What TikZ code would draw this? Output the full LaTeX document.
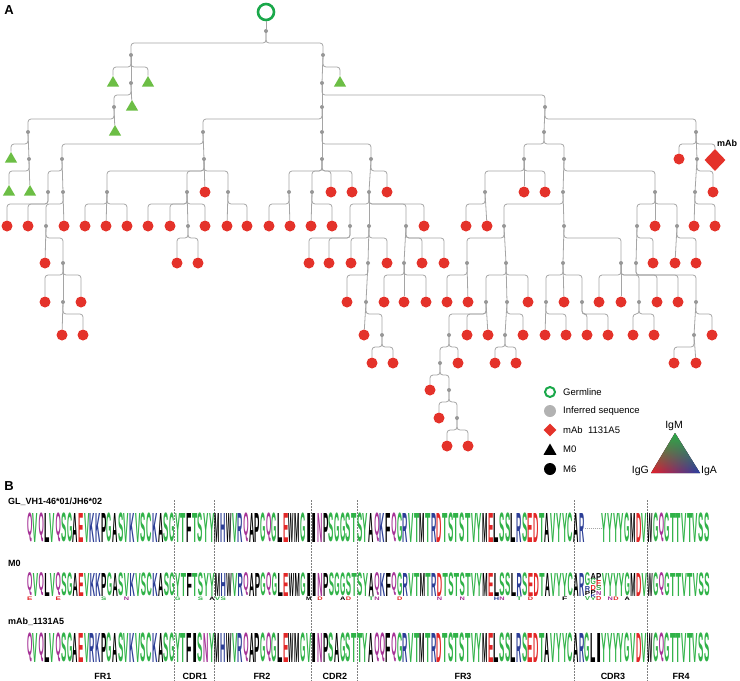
\documentclass[tikz,border=0pt]{standalone}
\usepackage{fontspec}
\setmainfont{Liberation Sans}
\usepackage{graphicx}
\usetikzlibrary{shapes.geometric, backgrounds, fadings}

\definecolor{leafred}{RGB}{228,50,42}
\definecolor{m0green}{RGB}{108,190,69}
\definecolor{germ}{RGB}{26,168,74}
\definecolor{branch}{RGB}{165,165,165}
\definecolor{infgray}{RGB}{150,150,150}
\definecolor{aagreen}{RGB}{48,178,72}
\definecolor{aared}{RGB}{226,38,38}
\definecolor{aablue}{RGB}{44,62,150}
\definecolor{aapurple}{RGB}{165,50,150}
\definecolor{igred}{RGB}{232,28,40}
\definecolor{iggreen}{RGB}{40,172,70}
\definecolor{igblue}{RGB}{40,60,165}

% residue colours
\colorlet{aaG}{aagreen}\colorlet{aaS}{aagreen}\colorlet{aaT}{aagreen}
\colorlet{aaY}{aagreen}\colorlet{aaC}{aagreen}\colorlet{aaV}{aagreen}
\colorlet{aaQ}{aapurple}\colorlet{aaN}{aapurple}
\colorlet{aaK}{aablue}\colorlet{aaR}{aablue}\colorlet{aaH}{aablue}
\colorlet{aaD}{aared}\colorlet{aaE}{aared}
\colorlet{aaA}{black}\colorlet{aaL}{black}\colorlet{aaI}{black}
\colorlet{aaP}{black}\colorlet{aaW}{black}\colorlet{aaF}{black}
\colorlet{aaM}{black}

\tikzfading[name=igfade, top color=transparent!0, bottom color=transparent!100]

% tree: child node plus its elbow from the parent
\newcommand{\kid}[5]{%
  \node[#3] (#2) at (#4,#5) {};
  \expandafter\xdef\csname kx#2\endcsname{#4}%
  \pgfmathtruncatemacro\kidnear{abs(\csname kx#1\endcsname-#4)<4}%
  \begin{pgfonlayer}{background}
    \ifnum\kidnear=1
      \draw[branchline] (#1) -- (#2);
    \else
      \draw[branchline] (#1.center) -- ++(0,12) -| (#2);
    \fi
  \end{pgfonlayer}}

% logo rows
\newcount\rescol
\newcommand{\resglyph}[2]{\textcolor{aa#2}{\resizebox*{5.3pt}{#1}{\bfseries #2}}}
\newcommand{\logorow}[4]{%
  \global\rescol=0
  \def\logotag{#1}\def\logoy{#2}\def\logoh{#3}%
  \logoscan#4\relax}
\def\logoscan#1{\ifx\relax#1\expandafter\logostop\else\expandafter\logodo\fi{#1}}
\def\logostop#1{}
\def\logodo#1{\logoput{#1}\global\advance\rescol by 1 \logoscan}
\def\logoput#1{\if-#1\else
  \edef\resname{\logotag\the\rescol}%
  \node[residue] (\resname) at ({27+(\the\rescol+0.5)*5.69},\logoy) {\resglyph{\logoh}{#1}};\fi}
\newcommand{\resat}[4]{%
  \node[residue] (var#1#4) at ({27+(#1+0.5)*5.69},#2) {\resglyph{#3}{#4}};}

\begin{document}
\begin{tikzpicture}[x=1pt,y=-1pt,
    branchline/.style={draw=branch, line width=0.8pt, rounded corners=3pt},
    inf/.style={circle, fill=infgray, inner sep=0pt, minimum size=4pt},
    msix/.style={circle, fill=leafred, inner sep=0pt, minimum size=11pt},
    mzero/.style={regular polygon, regular polygon sides=3, fill=m0green, inner sep=0pt, minimum size=14pt},
    mab/.style={diamond, fill=leafred, inner sep=0pt, minimum width=21pt, minimum height=22pt},
    germline/.style={circle, draw=germ, line width=2.6pt, inner sep=0pt, minimum size=16pt},
    panel/.style={font=\fontsize{13}{15}\selectfont\bfseries, inner sep=0pt},
    legtext/.style={anchor=west, font=\fontsize{9.5}{11}\selectfont, inner sep=0pt},
    rowlab/.style={anchor=west, font=\fontsize{9}{10}\selectfont\bfseries, inner sep=0pt},
    region/.style={font=\fontsize{9}{10}\selectfont\bfseries, inner sep=0pt},
    residue/.style={anchor=south, inner sep=0pt, outer sep=0pt},
    divider/.style={draw=gray, line width=0.5pt, dash pattern=on 1.5pt off 1.5pt},
    gapline/.style={draw=gray!70, line width=0.8pt, dash pattern=on 1pt off 1pt}]

  \useasboundingbox (0,0) rectangle (740,681);

  \node[panel] (pa) at (9,10) {A};
  \node[panel] (pb) at (9,486) {B};

  %germline and root
  \node[germline] (germ) at (266,12) {};
  \node[inf] (r) at (266,31) {};
  \xdef\kxr{266}
  \draw[branchline] (germ) -- (r);

  %M0 branch
  \kid{r}{a}{inf}{131}{55}
  \kid{a}{a1}{mzero}{113}{83}
  \kid{a}{a2}{inf}{131}{83}
  \kid{a}{a3}{mzero}{148}{83}
  \kid{a2}{a4}{inf}{114}{107}
  \kid{a2}{a5}{mzero}{132}{107}
  \kid{a4}{a6}{inf}{28}{132}
  \kid{a4}{a7}{mzero}{115}{132}
  \kid{a6}{a8}{mzero}{11}{159}
  \kid{a6}{a9}{inf}{29}{159}
  \kid{a9}{a10}{mzero}{9}{192}
  \kid{a9}{a11}{mzero}{30}{192}

  %M6 branch
  \kid{r}{b}{inf}{323}{55}
  \kid{b}{b1}{inf}{322}{83}
  \kid{b}{b2}{mzero}{340}{83}
  \kid{b1}{b3}{inf}{322}{107}
  \kid{b1}{b4}{inf}{545}{107}
  \kid{b3}{c}{inf}{203}{132}
  \kid{b3}{d}{inf}{322}{132}
  \kid{b4}{e}{inf}{544}{132}
  \kid{b4}{f}{inf}{696}{132}

  %left clade
  \kid{c}{g}{inf}{62}{159}
  \kid{c}{h}{inf}{204}{159}
  \kid{g}{g1}{inf}{48}{192}
  \kid{g}{g2}{inf}{63}{192}
  \kid{g1}{g1a}{msix}{7}{226}
  \kid{g1}{g1b}{msix}{28}{226}
  \kid{g2}{g3}{inf}{46}{226}
  \kid{g2}{g2a}{msix}{64}{226}
  \kid{g3}{g3a}{msix}{45}{263}
  \kid{g3}{g4}{inf}{63}{263}
  \kid{g4}{g4a}{msix}{45}{302}
  \kid{g4}{g5}{inf}{63}{302}
  \kid{g4}{g4b}{msix}{81}{302}
  \kid{g5}{g5a}{msix}{62}{335}
  \kid{g5}{g5b}{msix}{83}{335}
  \kid{h}{h1}{inf}{107}{192}
  \kid{h}{h2}{inf}{187}{192}
  \kid{h}{ha}{msix}{205}{192}
  \kid{h}{h3}{inf}{228}{192}
  \kid{h1}{h1a}{msix}{85}{226}
  \kid{h1}{h1b}{msix}{106}{226}
  \kid{h1}{h1c}{msix}{127}{226}
  \kid{h2}{h2a}{msix}{148}{226}
  \kid{h2}{h2b}{msix}{170}{226}
  \kid{h2}{h4}{inf}{188}{226}
  \kid{h2}{h2c}{msix}{205}{226}
  \kid{h4}{h4a}{msix}{177}{263}
  \kid{h4}{h4b}{msix}{198}{263}
  \kid{h3}{h3a}{msix}{227}{226}
  \kid{h3}{h3b}{msix}{247}{226}

  %middle clade
  \kid{d}{i}{inf}{322}{159}
  \kid{d}{j}{inf}{371}{159}
  \kid{i}{i1}{inf}{289}{192}
  \kid{i}{i2}{inf}{312}{192}
  \kid{i}{ia}{msix}{331}{192}
  \kid{i}{ib}{msix}{352}{192}
  \kid{i1}{i1a}{msix}{269}{226}
  \kid{i1}{i1b}{msix}{290}{226}
  \kid{i2}{i2a}{msix}{311}{226}
  \kid{i2}{i2b}{msix}{332}{226}
  \kid{j}{j1}{inf}{369}{192}
  \kid{j}{ja}{msix}{387}{192}
  \kid{j1}{j2}{inf}{350}{226}
  \kid{j1}{j3}{inf}{369}{226}
  \kid{j1}{j4}{inf}{406}{226}
  \kid{j1}{j1a}{msix}{424}{226}
  \kid{j2}{j2a}{msix}{309}{263}
  \kid{j2}{j2b}{msix}{329}{263}
  \kid{j3}{j3a}{msix}{351}{263}
  \kid{j3}{j5}{inf}{368}{263}
  \kid{j3}{j3b}{msix}{387}{263}
  \kid{j5}{j5a}{msix}{347}{302}
  \kid{j5}{j6}{inf}{366}{302}
  \kid{j6}{j6a}{msix}{364}{335}
  \kid{j6}{j7}{inf}{382}{335}
  \kid{j7}{j7a}{msix}{372}{363}
  \kid{j7}{j7b}{msix}{393}{363}
  \kid{j4}{j8}{inf}{404}{263}
  \kid{j4}{j4a}{msix}{422}{263}
  \kid{j4}{j4b}{msix}{444}{263}
  \kid{j8}{j8a}{msix}{384}{302}
  \kid{j8}{j8b}{msix}{404}{302}
  \kid{j8}{j8c}{msix}{426}{302}

  %right clade
  \kid{e}{k}{inf}{524}{159}
  \kid{e}{l}{inf}{564}{159}
  \kid{k}{k1}{inf}{485}{192}
  \kid{k}{ka}{msix}{524}{192}
  \kid{k}{kb}{msix}{545}{192}
  \kid{k1}{k1a}{msix}{466}{226}
  \kid{k1}{k1b}{msix}{487}{226}
  \kid{l}{l1}{inf}{563}{192}
  \kid{l}{l2}{inf}{655}{192}
  \kid{l1}{l3}{inf}{504}{226}
  \kid{l1}{l4}{inf}{564}{226}
  \kid{l3}{m}{inf}{467}{263}
  \kid{l3}{m1}{inf}{506}{263}
  \kid{m}{ma}{msix}{447}{302}
  \kid{m}{mb}{msix}{468}{302}
  \kid{m1}{m2}{inf}{486}{302}
  \kid{m1}{m3}{inf}{507}{302}
  \kid{m1}{m1a}{msix}{528}{302}
  \kid{m2}{m4}{inf}{449}{335}
  \kid{m2}{m2a}{msix}{467}{335}
  \kid{m2}{m2b}{msix}{488}{335}
  \kid{m4}{m5}{inf}{440}{363}
  \kid{m4}{m4a}{msix}{458}{363}
  \kid{m5}{m5a}{msix}{430}{390}
  \kid{m5}{m6}{inf}{449}{390}
  \kid{m6}{m6a}{msix}{439}{418}
  \kid{m6}{m7}{inf}{457}{418}
  \kid{m7}{m7a}{msix}{447}{446}
  \kid{m7}{m7b}{msix}{468}{446}
  \kid{m3}{m8}{inf}{505}{335}
  \kid{m3}{m3a}{msix}{523}{335}
  \kid{m8}{m8a}{msix}{495}{363}
  \kid{m8}{m8b}{msix}{516}{363}
  \kid{l4}{n}{inf}{563}{263}
  \kid{l4}{n1}{inf}{621}{263}
  \kid{n}{n2}{inf}{546}{302}
  \kid{n}{na}{msix}{564}{302}
  \kid{n}{n3}{inf}{582}{302}
  \kid{n2}{n2a}{msix}{545}{335}
  \kid{n2}{n2b}{msix}{566}{335}
  \kid{n3}{n3a}{msix}{587}{335}
  \kid{n3}{n3b}{msix}{608}{335}
  \kid{n1}{n1a}{msix}{599}{302}
  \kid{n1}{n1b}{msix}{621}{302}
  \kid{n1}{n4}{inf}{639}{302}
  \kid{n1}{n1c}{msix}{657}{302}
  \kid{n4}{n4a}{msix}{633}{335}
  \kid{n4}{n4b}{msix}{654}{335}
  \kid{l2}{o}{inf}{637}{226}
  \kid{l2}{la}{msix}{655}{226}
  \kid{l2}{o1}{inf}{677}{226}
  \kid{o}{o2}{inf}{636}{263}
  \kid{o}{oa}{msix}{653}{263}
  \kid{o2}{o2a}{msix}{678}{302}
  \kid{o2}{o3}{inf}{696}{302}
  \kid{o3}{o4}{inf}{694}{335}
  \kid{o3}{o3a}{msix}{712}{335}
  \kid{o4}{o4a}{msix}{674}{363}
  \kid{o4}{o4b}{msix}{696}{363}
  \kid{o1}{o1a}{msix}{675}{263}
  \kid{o1}{o1b}{msix}{696}{263}

  %mAb clade
  \kid{f}{fa}{msix}{679}{159}
  \kid{f}{f1}{inf}{697}{159}
  \kid{f}{mabnode}{mab}{715}{160}
  \kid{f1}{f2}{inf}{695}{192}
  \kid{f1}{fb}{msix}{713}{192}
  \kid{f2}{f2a}{msix}{694}{226}
  \kid{f2}{f2b}{msix}{715}{226}
  \node[anchor=west, font=\fontsize{9}{10}\selectfont\bfseries, inner sep=0pt] (mablab) at (717,143) {mAb};

  %legend
  \node[germline, minimum size=10pt, line width=2pt] (lgerm) at (550,392) {};
  \node[legtext] (tgerm) at (563,392) {Germline};
  \node[circle, fill=gray!60, minimum size=12pt, inner sep=0pt] (linf) at (550,411) {};
  \node[legtext] (tinf) at (563,411) {Inferred sequence};
  \node[diamond, fill=leafred, minimum size=13pt, inner sep=0pt] (lmab) at (550,430) {};
  \node[legtext] (tmab) at (563,430) {mAb\ \ 1131A5};
  \node[regular polygon, regular polygon sides=3, fill=black, minimum size=15pt, inner sep=0pt] (lm0) at (550,451) {};
  \node[legtext] (tm0) at (563,449) {M0};
  \node[circle, fill=black, minimum size=12pt, inner sep=0pt] (lm6) at (550,469) {};
  \node[legtext] (tm6) at (563,469) {M6};

  %isotype triangle
  \coordinate (igg) at (651,473);
  \coordinate (igm) at (675,433);
  \coordinate (iga) at (700,473);
  \fill[left color=igred, right color=igblue] (igg) -- (igm) -- (iga) -- cycle;
  \fill[iggreen, path fading=igfade] (igg) -- (igm) -- (iga) -- cycle;
  \node[anchor=south, font=\fontsize{10.5}{12}\selectfont, inner sep=0pt] (tigm) at (674,431) {IgM};
  \node[anchor=east, font=\fontsize{10.5}{12}\selectfont, inner sep=0pt] (tigg) at (649,471) {IgG};
  \node[anchor=west, font=\fontsize{10.5}{12}\selectfont, inner sep=0pt] (tiga) at (701,471) {IgA};

  %region dividers
  \foreach \dx in {174,214,311,357,574,647} {
    \coordinate (top\dx) at (\dx,500);
    \coordinate (bot\dx) at (\dx,681);
    \draw[divider] (top\dx) -- (bot\dx);
  }

  %sequence logos
  \node[rowlab] (lgl) at (8,502) {GL\_VH1-46*01/JH6*02};
  \logorow{gl}{542}{29pt}{QVQLVQSGAEVKKPGASVKVSCKASGYTFTSYYMHWVRQAPGQGLEWMGIINPSGGSTSYAQKFQGRVTMTRDTSTSTVYMELSSLRSEDTAVYYCAR---YYYYGMDVWGQGTTVTVSS}
  \coordinate (gapa) at ({27+98*5.69},528);
  \coordinate (gapb) at ({27+101*5.69},528);
  \draw[gapline] (gapa) -- (gapb);

  \node[rowlab] (lmz) at (8,563) {M0};
  \logorow{mz}{596}{23pt}{QVQLVQSGAEVKKPGASVKVSCKASGYTFTSYYMHWVRQAPGQGLEWMGIINPSGGSTSYAQKFQGRVTMTRDTSTSTVYMELSSLRSEDTAVYYCAR---YYYYGMDVWGQGTTVTVSS}
  % CDR3 stacks
  \resat{98}{586}{13pt}{G}\resat{98}{591}{5pt}{R}\resat{98}{595}{4pt}{P}\resat{98}{600}{4pt}{V}
  \resat{99}{579}{6pt}{A}\resat{99}{585}{6pt}{G}\resat{99}{590}{5pt}{D}\resat{99}{594}{4pt}{P}\resat{99}{597}{3pt}{K}\resat{99}{600}{3pt}{Y}
  \resat{100}{580}{7pt}{P}\resat{100}{586}{6pt}{E}\resat{100}{591}{5pt}{S}\resat{100}{595}{4pt}{N}\resat{100}{600}{4pt}{D}
  % minor variants
  \foreach \vc/\vl in {0/E,5/E,13/S,17/N,26/G,30/S,32/A,33/V,34/S,49/M,51/D,55/A,56/D,60/T,61/N,65/D,72/N,76/N,82/H,83/N,86/T,88/D,94/F,102/N,103/D,105/A}
    \resat{\vc}{600.5}{3.5pt}{\vl};

  \node[rowlab] (lmab) at (8,622) {mAb\_1131A5};
  \logorow{ab}{662}{29pt}{QVQLVQSGAEVRKPGASVKVSCKASGYTFISNYMHWVRQAPGQGLEWMGVINPSAGSTTYAQQFQGRVTMTRDTSTSTVYMELSSLRSEDTAVYYCARGLIYYYYGVDVWGQGTTVTVSS}

  %regions
  \node[region] (fr1) at (103,676) {FR1};
  \node[region] (cdr1) at (195,676) {CDR1};
  \node[region] (fr2) at (262,676) {FR2};
  \node[region] (cdr2) at (335,676) {CDR2};
  \node[region] (fr3) at (463,676) {FR3};
  \node[region] (cdr3) at (613,676) {CDR3};
  \node[region] (fr4) at (681,676) {FR4};
\end{tikzpicture}
\end{document}
